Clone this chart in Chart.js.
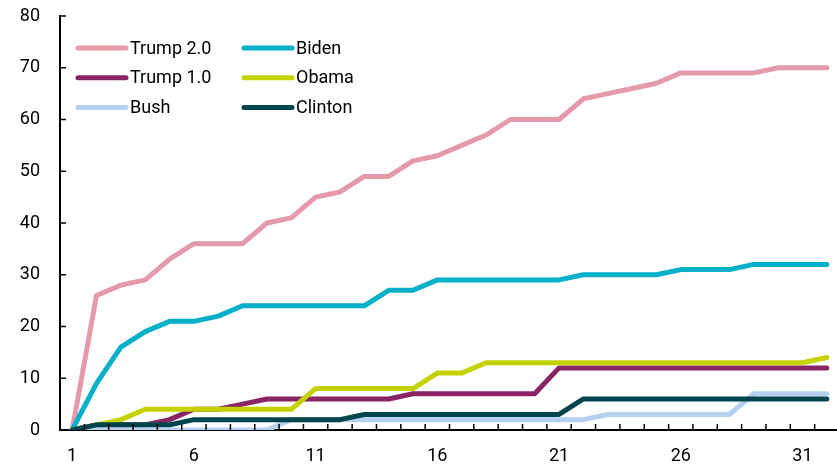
<!DOCTYPE html>
<html><head><meta charset="utf-8">
<script src="https://cdn.jsdelivr.net/npm/chart.js@4"></script>
<style>
html,body{margin:0;padding:0;overflow:hidden;background:#fff}
#wrap{position:relative;width:846px;height:468px}
</style></head><body>
<div id="wrap"><canvas id="c"></canvas></div>
<script>
// Day number since inauguration
const days = [1,2,3,4,5,6,7,8,9,10,11,12,13,14,15,16,17,18,19,20,21,22,23,24,25,26,27,28,29,30,31,32];
const tickDays = [1,6,11,16,21,26,31];
const yTicks = [0,10,20,30,40,50,60,70,80];

const trump2  = [0,26,28,29,33,36,36,36,40,41,45,46,49,49,52,53,55,57,60,60,60,64,65,66,67,69,69,69,69,70,70,70];
const biden   = [0,9,16,19,21,21,22,24,24,24,24,24,24,27,27,29,29,29,29,29,29,30,30,30,30,31,31,31,32,32,32,32];
const trump1  = [0,1,1,1,2,4,4,5,6,6,6,6,6,6,7,7,7,7,7,7,12,12,12,12,12,12,12,12,12,12,12,12];
const obama   = [0,1,2,4,4,4,4,4,4,4,8,8,8,8,8,11,11,13,13,13,13,13,13,13,13,13,13,13,13,13,13,14];
const bush    = [0,0,0,0,0,0,0,0,0,2,2,2,2,2,2,2,2,2,2,2,2,2,3,3,3,3,3,3,7,7,7,7];
const clinton = [0,1,1,1,1,2,2,2,2,2,2,2,3,3,3,3,3,3,3,3,3,6,6,6,6,6,6,6,6,6,6,6];

const seriesNames = ['Trump 2.0','Biden','Trump 1.0','Obama','Bush','Clinton'];
const seriesData = [trump2, biden, trump1, obama, bush, clinton];
const seriesColors = ['#E59AAB','#02B0C8','#8A2565','#C4D300','#B5D1EF','#00444E'];

const FONT = 'Roboto, "Liberation Sans", sans-serif';

const datasets = seriesData.map((vals, i) => ({
  label: seriesNames[i],
  data: days.map((d, j) => ({x: d, y: vals[j]})),
  borderColor: seriesColors[i],
  backgroundColor: seriesColors[i],
  borderWidth: 5,
  pointRadius: 0,
  tension: 0,
  borderCapStyle: 'round',
  borderJoinStyle: 'round',
  order: seriesData.length - i
}));

const decor = {
  id: 'decor',
  afterDatasetsDraw(chart) {
    const ctx = chart.ctx;
    const xs = chart.scales.x, ys = chart.scales.y;
    const area = chart.chartArea;
    ctx.save();
    ctx.strokeStyle = '#000';
    ctx.lineWidth = 1.5;
    // minor x ticks between categories (inside)
    for (let k = 0; k < days.length; k++) {
      const px = xs.getPixelForValue(days[k] + 0.5);
      if (px > area.right + 1) continue;
      ctx.beginPath();
      ctx.moveTo(px, area.bottom);
      ctx.lineTo(px, area.bottom - 6);
      ctx.stroke();
    }
    // y ticks (inside)
    yTicks.forEach(v => {
      const py = ys.getPixelForValue(v);
      ctx.beginPath();
      ctx.moveTo(area.left, py);
      ctx.lineTo(area.left + 6, py);
      ctx.stroke();
    });
    // legend
    const colX = [78, 244];
    const rowY0 = 48, rowGap = 29.7;
    ctx.font = '18px ' + FONT;
    ctx.textBaseline = 'middle';
    ctx.textAlign = 'left';
    chart.data.datasets.forEach((ds, i) => {
      const col = i % 2, row = Math.floor(i / 2);
      const x0 = colX[col], y = rowY0 + row * rowGap;
      ctx.strokeStyle = ds.borderColor;
      ctx.lineWidth = 5;
      ctx.lineCap = 'round';
      ctx.beginPath();
      ctx.moveTo(x0, y);
      ctx.lineTo(x0 + 48, y);
      ctx.stroke();
      ctx.fillStyle = '#000';
      ctx.fillText(ds.label, x0 + 52, y + 1);
    });
    ctx.restore();
  }
};

new Chart(document.getElementById('c'), {
  type: 'line',
  data: { datasets },
  options: {
    responsive: true,
    maintainAspectRatio: false,
    animation: false,
    layout: { padding: { left: 0, top: 16, right: 7, bottom: 0 } },
    plugins: { legend: { display: false }, tooltip: { enabled: false }, title: { display: false } },
    scales: {
      x: {
        type: 'linear',
        min: 0.5, max: 32.5,
        afterBuildTicks: (s) => { s.ticks = tickDays.map(v => ({value: v})); },
        afterFit: (s) => { s.height = 38; s.paddingLeft = 0; s.paddingRight = 0; },
        grid: { display: true, drawOnChartArea: false, drawTicks: false },
        border: { display: true, color: '#000', width: 2 },
        ticks: { color: '#000', font: { family: FONT, size: 18 }, padding: 16, autoSkip: false, maxRotation: 0,
                 callback: (v) => String(v) }
      },
      y: {
        min: 0, max: 80,
        afterBuildTicks: (s) => { s.ticks = yTicks.map(v => ({value: v})); },
        afterFit: (s) => { s.width = 60; s.paddingTop = 0; s.paddingBottom = 0; },
        grid: { display: true, drawOnChartArea: false, drawTicks: false },
        border: { display: true, color: '#000', width: 2 },
        ticks: { color: '#000', font: { family: FONT, size: 18 }, padding: 20 }
      }
    }
  },
  plugins: [decor]
});
</script>
</body></html>
